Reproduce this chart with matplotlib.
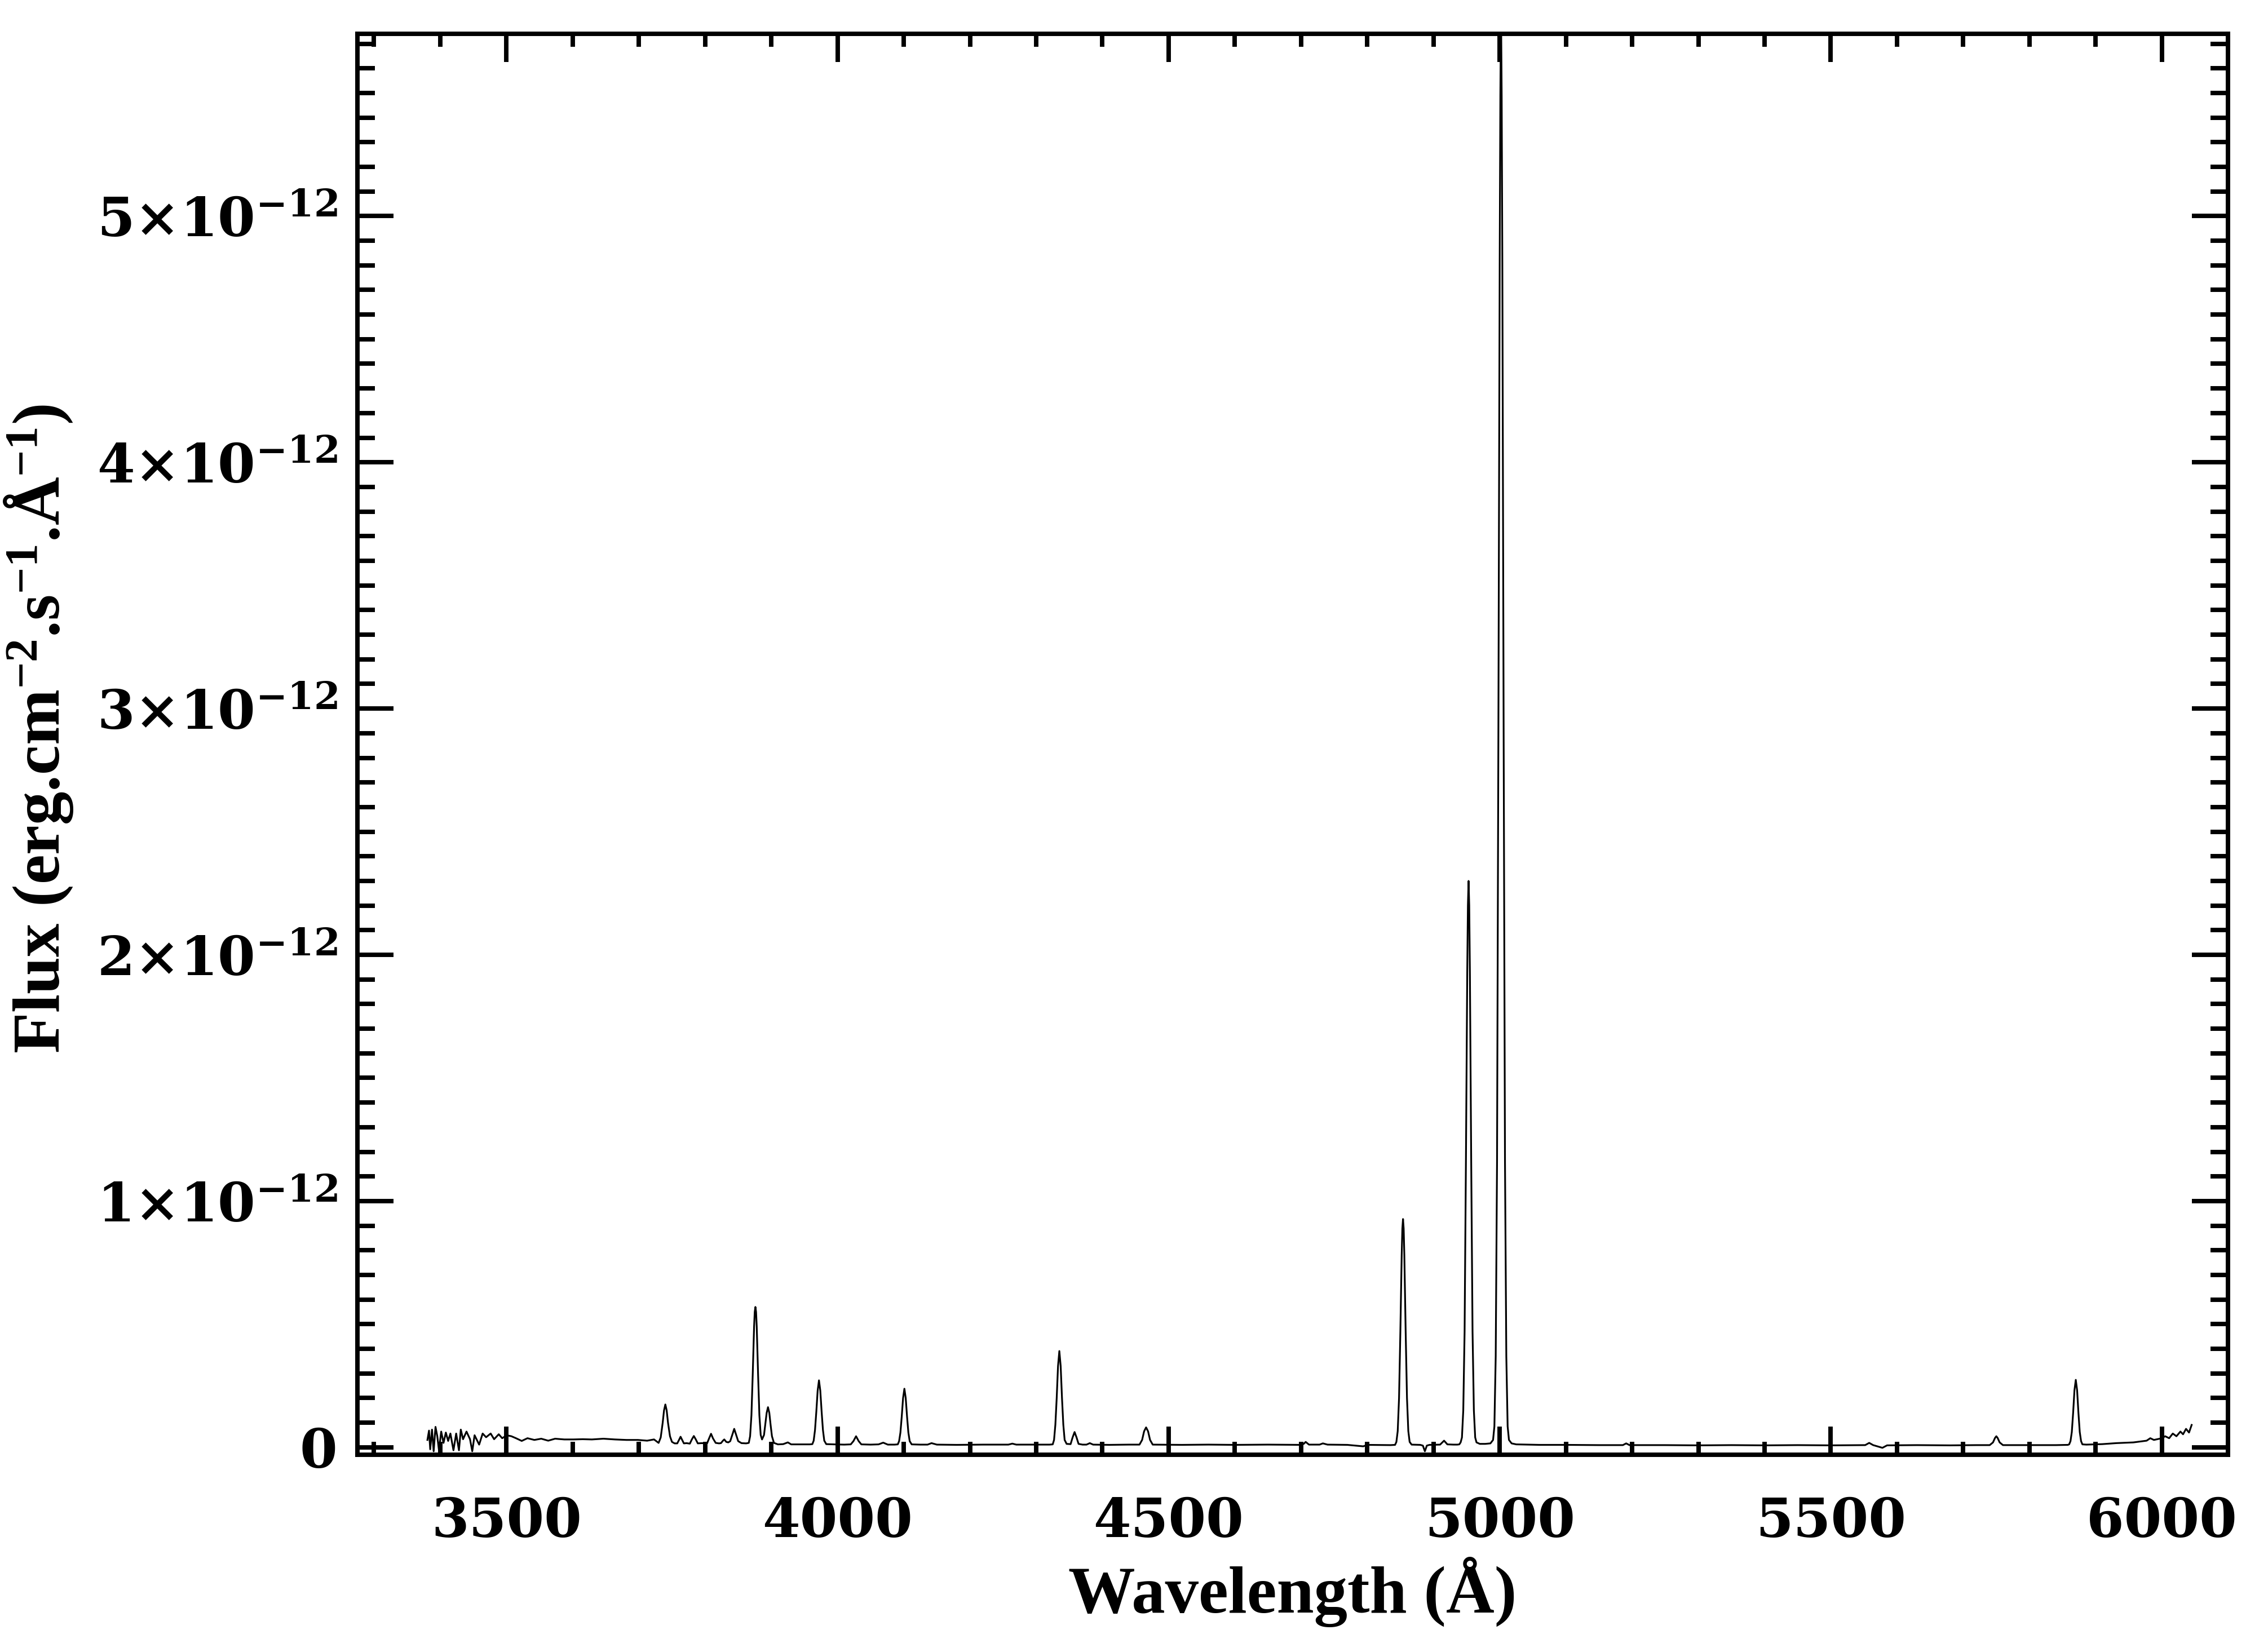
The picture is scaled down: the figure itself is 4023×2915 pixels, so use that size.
import numpy as np
import matplotlib
matplotlib.use('Agg')
import matplotlib.pyplot as plt
from matplotlib.ticker import MultipleLocator, FuncFormatter

# spectrum: (wavelength in Angstrom, flux in 1e-12 erg/cm2/s/A)
blue_end = [
    (3380.7, 0.030), (3383.1, 0.068), (3384.9, -0.008), (3387.6, 0.072), (3390.1, -0.016),
    (3392.9, 0.083), (3395.6, 0.045), (3398.1, -0.012), (3401.5, 0.064), (3405.0, 0.018),
    (3408.5, 0.060), (3412.0, 0.026), (3415.4, 0.056), (3420.0, -0.012), (3424.1, 0.056),
    (3428.3, -0.012), (3431.1, 0.072), (3434.5, 0.033), (3439.7, 0.064), (3445.0, 0.033),
    (3448.4, -0.016), (3451.9, 0.049), (3458.8, 0.011), (3464.1, 0.056), (3469.3, 0.041),
    (3476.2, 0.056), (3481.4, 0.033), (3488.4, 0.053), (3493.6, 0.037), (3500.5, 0.049),
    (3507.5, 0.045), (3514.4, 0.037), (3523.1, 0.026), (3531.8, 0.037), (3542.2, 0.030),
    (3552.6, 0.035), (3563.1, 0.027), (3573.5, 0.035), (3587.4, 0.032), (3601.3, 0.032),
    (3615.2, 0.033), (3629.1, 0.032), (3646.5, 0.035), (3663.8, 0.032), (3681.2, 0.030),
    (3698.6, 0.030), (3712.5, 0.027), (3722.9, 0.032),
]

uv_lines = [
    (3729.8, 0.018), (3733, 0.040), (3736, 0.100), (3738, 0.150), (3740, 0.174),
    (3742, 0.150), (3744, 0.100), (3747, 0.045), (3750, 0.022), (3754, 0.016),
    (3758, 0.016), (3761, 0.032), (3763, 0.043), (3765, 0.032), (3768, 0.016),
    (3772, 0.017), (3777, 0.015), (3780, 0.032), (3783, 0.046), (3786, 0.032),
    (3789, 0.016), (3795, 0.017), (3803, 0.016), (3806, 0.036), (3809, 0.055),
    (3812, 0.036), (3816, 0.018), (3821, 0.016), (3824, 0.017), (3827, 0.027),
    (3829, 0.032), (3832, 0.022), (3835, 0.020), (3838, 0.025), (3841, 0.050),
    (3844, 0.075), (3847, 0.050), (3850, 0.025), (3855, 0.017), (3862, 0.016),
    (3866, 0.018), (3868, 0.045), (3870, 0.130), (3872, 0.300), (3874, 0.490),
    (3875, 0.550), (3876, 0.570), (3877, 0.550), (3878, 0.490), (3880, 0.300),
    (3882, 0.130), (3884, 0.050),
    (3886, 0.032), (3889, 0.050), (3891, 0.095), (3893, 0.140), (3895, 0.163),
    (3897, 0.140), (3899, 0.090), (3901, 0.045), (3904, 0.018), (3910, 0.012),
    (3918, 0.013), (3925, 0.020), (3930, 0.012), (3945, 0.012), (3958, 0.012),
    (3962, 0.013), (3964, 0.027), (3966, 0.070), (3968, 0.145), (3970, 0.230),
    (3972, 0.272), (3974, 0.230), (3976, 0.145), (3978, 0.070), (3980, 0.027),
    (3983, 0.013), (3995, 0.012), (4010, 0.011), (4020, 0.012), (4024, 0.025),
    (4028, 0.045), (4032, 0.025), (4036, 0.012), (4050, 0.011), (4062, 0.012),
    (4069, 0.019), (4076, 0.011), (4086, 0.011), (4091, 0.012), (4093, 0.025),
    (4095, 0.060), (4097, 0.125), (4099, 0.200), (4101, 0.238), (4103, 0.200),
    (4105, 0.125), (4107, 0.060), (4109, 0.025), (4112, 0.012),
]

mid_lines = [
    (4125, 0.011), (4136, 0.011), (4142, 0.017), (4150, 0.011), (4180, 0.010),
    (4220, 0.011), (4258, 0.011), (4264, 0.015), (4270, 0.011), (4300, 0.011),
    (4320, 0.011), (4325, 0.012), (4327, 0.030), (4329, 0.092), (4331, 0.200),
    (4333, 0.330), (4335, 0.391), (4337, 0.330), (4339, 0.200), (4341, 0.092),
    (4343, 0.030), (4346, 0.014), (4352, 0.013), (4355, 0.040), (4358, 0.062),
    (4361, 0.040), (4364, 0.014), (4370, 0.011), (4376, 0.011), (4381, 0.017),
    (4386, 0.011), (4410, 0.010), (4440, 0.011), (4456, 0.011), (4460, 0.030),
    (4463, 0.065), (4466, 0.081), (4469, 0.065), (4472, 0.030), (4476, 0.011),
    (4520, 0.010), (4560, 0.011), (4600, 0.010), (4650, 0.011), (4700, 0.010),
    (4704, 0.014), (4707, 0.022), (4712, 0.011), (4728, 0.011), (4733, 0.016),
    (4740, 0.011), (4770, 0.010), (4794, 0.004), (4800, 0.010), (4835, 0.009),
    (4842, 0.010), (4844, 0.022), (4846, 0.066), (4848, 0.200), (4850, 0.470),
    (4852, 0.780), (4853, 0.888), (4854, 0.927), (4855, 0.888), (4856, 0.780),
    (4858, 0.470), (4860, 0.200),
    (4862, 0.066), (4864, 0.022), (4867, 0.011), (4880, 0.010), (4884, 0.007),
    (4887, -0.016), (4890, 0.007), (4894, 0.010), (4910, 0.011), (4916, 0.027),
    (4921, 0.012), (4930, 0.011), (4936, 0.011),
]

oiii_lines = [
    (4939, 0.012), (4941, 0.020), (4943, 0.040), (4945, 0.150), (4947, 0.470),
    (4949, 1.155), (4951, 1.930), (4952, 2.200), (4953, 2.300), (4954, 2.200),
    (4955, 1.930), (4957, 1.155),
    (4959, 0.470), (4961, 0.150), (4963, 0.040), (4965, 0.020), (4970, 0.014),
    (4978, 0.014), (4986, 0.016), (4990, 0.030), (4992, 0.085), (4994, 0.370),
    (4996, 1.160), (4998, 2.870), (5000, 4.810), (5001, 5.490), (5001.7, 5.740),
    (5002.3, 5.740), (5003, 5.490), (5004, 4.810),
    (5006, 2.870), (5008, 1.160), (5010, 0.370), (5012, 0.085), (5014, 0.030),
    (5018, 0.016),
]

red_end = [
    (5025, 0.012), (5060, 0.010), (5100, 0.010), (5150, 0.009), (5186, 0.009),
    (5191, 0.016), (5196, 0.009), (5250, 0.009), (5300, 0.008), (5350, 0.009),
    (5400, 0.008), (5450, 0.009), (5500, 0.008), (5552, 0.009), (5558, 0.018),
    (5564, 0.009), (5578, -0.002), (5585, 0.008), (5630, 0.009), (5680, 0.008),
    (5720, 0.009), (5740, 0.009), (5745, 0.020), (5748, 0.038), (5750, 0.045),
    (5752, 0.038), (5755, 0.020), (5760, 0.009), (5800, 0.009), (5840, 0.009),
    (5858, 0.010), (5860, 0.012), (5862, 0.025), (5864, 0.062), (5866, 0.140),
    (5868, 0.232), (5870, 0.274), (5872, 0.232), (5874, 0.140), (5876, 0.062),
    (5878, 0.025), (5880, 0.012), (5886, 0.011), (5910, 0.013), (5931, 0.017),
    (5957, 0.020), (5977, 0.027), (5982.5, 0.037), (5988, 0.030), (6000, 0.037),
    (6005, 0.045), (6011, 0.037), (6016.5, 0.056), (6022, 0.045), (6028, 0.064),
    (6032, 0.053), (6036.5, 0.075), (6041, 0.060), (6045, 0.091),
]

x_range = (3275, 6100)
y_range = (-0.03e-12, 5.74e-12)
x_ticks = [3500, 4000, 4500, 5000, 5500, 6000]
y_ticks = [0, 1e-12, 2e-12, 3e-12, 4e-12, 5e-12]


def flux_label(v, pos):
    n = int(round(v / 1e-12))
    if n == 0:
        return '0'
    return '%d\u00d710$^{-12}$' % n


if __name__ == '__main__':
    plt.rcParams['font.family'] = 'DejaVu Serif'
    plt.rcParams['font.weight'] = 'bold'
    plt.rcParams['mathtext.default'] = 'regular'
    plt.rcParams['path.simplify'] = False

    spec = np.array(blue_end + uv_lines + mid_lines + oiii_lines + red_end)
    wave = spec[:, 0]
    flux = spec[:, 1] * 1e-12

    fig = plt.figure(figsize=(4023 / 300, 2915 / 300), dpi=300)
    ax = fig.add_axes([0.1576, 0.1146, 0.8248, 0.8648])

    ax.plot(wave, flux, color='black', lw=0.75)
    ax.set_xlim(*x_range)
    ax.set_ylim(*y_range)

    ax.set_xticks(x_ticks)
    ax.set_yticks(y_ticks)
    ax.xaxis.set_minor_locator(MultipleLocator(100))
    ax.yaxis.set_minor_locator(MultipleLocator(1e-13))
    ax.yaxis.set_major_formatter(FuncFormatter(flux_label))

    ax.tick_params(which='both', direction='in', top=True, right=True,
                   width=1.9, labelsize=23, colors='black')
    ax.tick_params(axis='x', which='major', length=12, pad=17.5)
    ax.tick_params(axis='x', which='minor', length=5.6)
    ax.tick_params(axis='y', which='major', length=15.3, pad=8.5)
    ax.tick_params(axis='y', which='minor', length=7.4)
    for sp in ax.spines.values():
        sp.set_linewidth(1.9)

    lab = dict(family='Liberation Serif', weight='bold', size=28.5)
    ax.set_xlabel('Wavelength (\u00c5)', **lab)
    ax.xaxis.set_label_coords(0.5, -0.0718)
    ax.set_ylabel('Flux (erg.cm$^{-2}$.s$^{-1}$.\u00c5$^{-1}$)', **lab)
    ax.yaxis.set_label_coords(-0.151, 0.511)

    fig.savefig('out.png', dpi=300)
